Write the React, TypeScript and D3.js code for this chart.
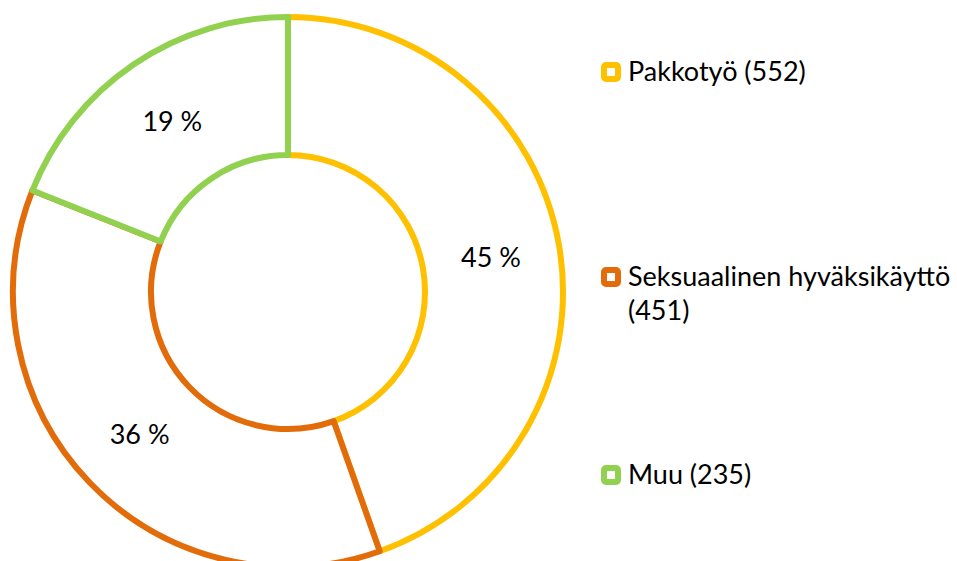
import React from "react";
import * as d3 from "d3";

const categories = ["Pakkotyö", "Seksuaalinen hyväksikäyttö", "Muu"];
const values = [552, 451, 235];
const colors = ["#FFC000", "#E36C0A", "#92D050"];
const legendLines = [["Pakkotyö (552)"], ["Seksuaalinen hyväksikäyttö", "(451)"], ["Muu (235)"]];
const legendY = [72, 277, 475];

const W = 957;
const H = 561;
const cx = 288;
const cy = 292;
const outerR = 275;
const innerR = 137;
const FONT = "Lato, 'Open Sans', sans-serif";

export default function App() {
  const total = d3.sum(values);
  const pie = d3.pie<number>().sort(null).startAngle(0).endAngle(2 * Math.PI);
  const arcs = pie(values);
  const arc = d3.arc<d3.PieArcDatum<number>>().innerRadius(innerR).outerRadius(outerR);
  const labelArc = d3.arc<d3.PieArcDatum<number>>().innerRadius(innerR).outerRadius(outerR);

  return (
    <svg
      width={W}
      height={H}
      style={{ position: "absolute", left: 0, top: 0, background: "#fff" }}
      fontFamily={FONT}
    >
      <g transform={`translate(${cx},${cy})`}>
        {arcs.map((a, i) => (
          <path
            key={categories[i]}
            d={arc(a) || ""}
            fill="#fff"
            stroke={colors[i]}
            strokeWidth={6}
            strokeLinejoin="round"
          />
        ))}
        {arcs.map((a, i) => {
          const [x, y] = labelArc.centroid(a);
          return (
            <text
              key={"l" + i}
              x={x}
              y={y}
              dy="0.35em"
              textAnchor="middle"
              fontSize={27}
              fill="#000"
            >
              {`${Math.round((values[i] / total) * 100)} %`}
            </text>
          );
        })}
      </g>
      {categories.map((c, i) => (
        <g key={"lg" + c}>
          <rect
            x={604}
            y={legendY[i] - 7}
            width={14}
            height={14}
            rx={2}
            fill="#fff"
            stroke={colors[i]}
            strokeWidth={6}
          />
          {legendLines[i].map((t, j) => (
            <text
              key={j}
              x={628}
              y={legendY[i] + 9 + j * 34}
              fontSize={27}
              fill="#000"
            >
              {t}
            </text>
          ))}
        </g>
      ))}
    </svg>
  );
}
